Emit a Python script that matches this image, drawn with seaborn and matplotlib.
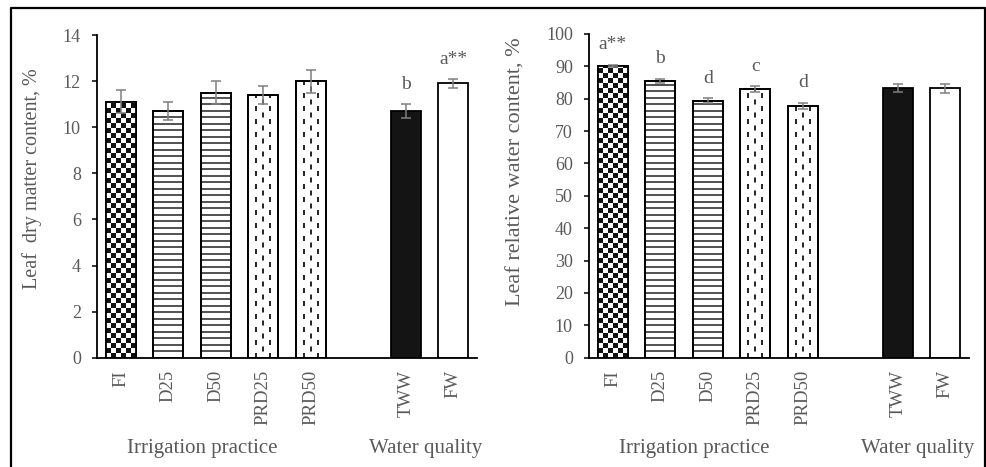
import numpy as np
import pandas as pd
import matplotlib
matplotlib.use("Agg")
import matplotlib.pyplot as plt
import matplotlib.transforms as mtransforms
from matplotlib.colors import ListedColormap
from matplotlib.lines import Line2D
from matplotlib.patches import Rectangle
import seaborn as sns

# ---- data -------------------------------------------------------------
treatments = ["FI", "D25", "D50", "PRD25", "PRD50", "TWW", "FW"]
slots = ["FI", "D25", "D50", "PRD25", "PRD50", "", "TWW", "FW"]

ldmc_mean = [11.1, 10.7, 11.5, 11.4, 12.0, 10.7, 11.9]
ldmc_err = [0.5, 0.4, 0.5, 0.4, 0.5, 0.3, 0.2]
ldmc_letters = {"TWW": "b", "FW": "a**"}

rwc_mean = [90.2, 85.6, 79.4, 83.0, 77.8, 83.2, 83.3]
rwc_err = [0.3, 0.6, 0.8, 0.8, 1.0, 1.2, 1.4]
rwc_letters = {"FI": "a**", "D25": "b", "D50": "d", "PRD25": "c", "PRD50": "d"}

group_labels = ["Irrigation practice", "Water quality"]

# ---- styling ----------------------------------------------------------
sns.set_style("white")
plt.rcParams["font.family"] = ["Liberation Serif", "DejaVu Serif"]
plt.rcParams["lines.scale_dashes"] = False

TEXT = "#595959"
fills = {"FI": "checker", "D25": "hlines", "D50": "hlines",
         "PRD25": "dashes", "PRD50": "dashes", "TWW": "solid", "FW": "plain"}
palette = {t: ("#141414" if fills[t] == "solid" else "white") for t in treatments}


def decorate_bars(ax):
    """Fill the bars with checker, stripe and dash patterns."""
    org = ax.transData.transform((0, 0))
    px_x = ax.transData.transform((1, 0))[0] - org[0]
    px_y = ax.transData.transform((0, 1))[1] - org[1]
    for p in list(ax.patches):
        x0, w, h = p.get_x(), p.get_width(), p.get_height()
        if not np.isfinite(h) or h <= 0:
            continue
        name = slots[int(round(x0 + w / 2))]
        kind = fills[name]
        z = p.get_zorder()
        if kind == "checker":
            sq = 5.0
            ncols = max(1, int(round(w * px_x / sq)))
            sq_y = sq / px_y
            nrows = int(np.ceil(h / sq_y))
            ii, jj = np.indices((nrows, ncols))
            im = ax.imshow((ii + jj) % 2, extent=(x0, x0 + w, 0, nrows * sq_y),
                           origin="lower", cmap=ListedColormap(["white", "#111111"]),
                           interpolation="nearest", aspect="auto", zorder=z + 0.5)
            im.set_clip_path(p)
        elif kind == "hlines":
            dy = 6.5 / px_y
            ys = np.arange(dy, h - dy * 0.3, dy)
            ax.hlines(ys, x0, x0 + w, colors="#222222", linewidth=1.1, zorder=z + 0.5)
        elif kind == "dashes":
            period = 13.0 * 72 / 100  # points
            dash = 5.0 * 72 / 100
            for frac, phase in [(0.27, 0.0), (0.5, 0.5), (0.73, 0.0)]:
                ax.vlines(x0 + frac * w, 0, h, colors="#111111", linewidth=1.3,
                          linestyles=[(phase * period, (dash, period - dash))],
                          zorder=z + 0.5)
        if kind in ("checker", "hlines", "dashes"):
            ax.add_patch(Rectangle((x0, 0), w, h, fill=False, edgecolor="black",
                                   linewidth=1.3, zorder=z + 1))


def panel(ax, means, errs, letters, ylabel, ymax, ystep, label_xy, label_size):
    df = pd.DataFrame({"treatment": treatments, "value": means})
    sns.barplot(data=df, x="treatment", y="value", hue="treatment", order=slots,
                hue_order=treatments, palette=palette, saturation=1, width=0.63,
                edgecolor="black", linewidth=1.3, errorbar=None, legend=False, ax=ax)
    ax.set_xlim(-0.5, len(slots) - 0.5)
    ax.set_ylim(0, ymax)
    decorate_bars(ax)

    xpos = [slots.index(t) for t in treatments]
    ax.errorbar(xpos, means, yerr=errs, fmt="none", ecolor="#7f7f7f",
                elinewidth=1.1, capsize=3.6, capthick=1.1, zorder=6)
    for t, lab in letters.items():
        i = treatments.index(t)
        ax.annotate(lab, xy=(xpos[i], means[i] + errs[i]), xytext=(0, 11),
                    textcoords="offset points", ha="center", va="baseline",
                    fontsize=14, color=TEXT)

    ax.set_xlim(-0.5, len(slots) - 0.5)
    ax.set_ylim(0, ymax)
    ax.set_yticks(np.arange(0, ymax + 0.001, ystep))
    ax.set_xlabel("")
    ax.set_ylabel(ylabel, fontsize=label_size, color=TEXT)
    ax.yaxis.set_label_coords(*label_xy)

    ax.tick_params(axis="y", direction="out", length=3.6, width=1.1, color="black",
                   pad=8, labelsize=13, labelcolor=TEXT, left=True)
    ax.tick_params(axis="x", length=0, pad=9, labelsize=13.5, labelcolor=TEXT,
                   labelrotation=90)
    sns.despine(ax=ax)
    for s in ("left", "bottom"):
        ax.spines[s].set_color("black")
        ax.spines[s].set_linewidth(1.3)

    trans = mtransforms.blended_transform_factory(ax.transData, ax.transAxes)
    ax.text(1.72, -0.28, group_labels[0], transform=trans, ha="center",
            va="center", fontsize=15, color=TEXT)
    ax.text(6.42, -0.28, group_labels[1], transform=trans, ha="center",
            va="center", fontsize=15, color=TEXT)


fig = plt.figure(figsize=(9.87, 4.67), dpi=100)
ax1 = fig.add_axes([97 / 987, 1 - 357.7 / 467, 380 / 987, 322.7 / 467])
ax2 = fig.add_axes([589 / 987, 1 - 357.7 / 467, 380 / 987, 323.7 / 467])

panel(ax1, ldmc_mean, ldmc_err, ldmc_letters, "Leaf  dry matter content, %",
      14, 2, (-0.145, 0.554), 14.5)
panel(ax2, rwc_mean, rwc_err, rwc_letters, "Leaf relative water content, %",
      100, 10, (-0.168, 0.574), 16)

# outer frame
fig.add_artist(Line2D([11 / 987, 11 / 987, 985 / 987, 985 / 987],
                      [-0.02, 1 - 8 / 467, 1 - 8 / 467, -0.02],
                      transform=fig.transFigure, color="black", linewidth=1.6))

fig.savefig("out.png", dpi=100)
